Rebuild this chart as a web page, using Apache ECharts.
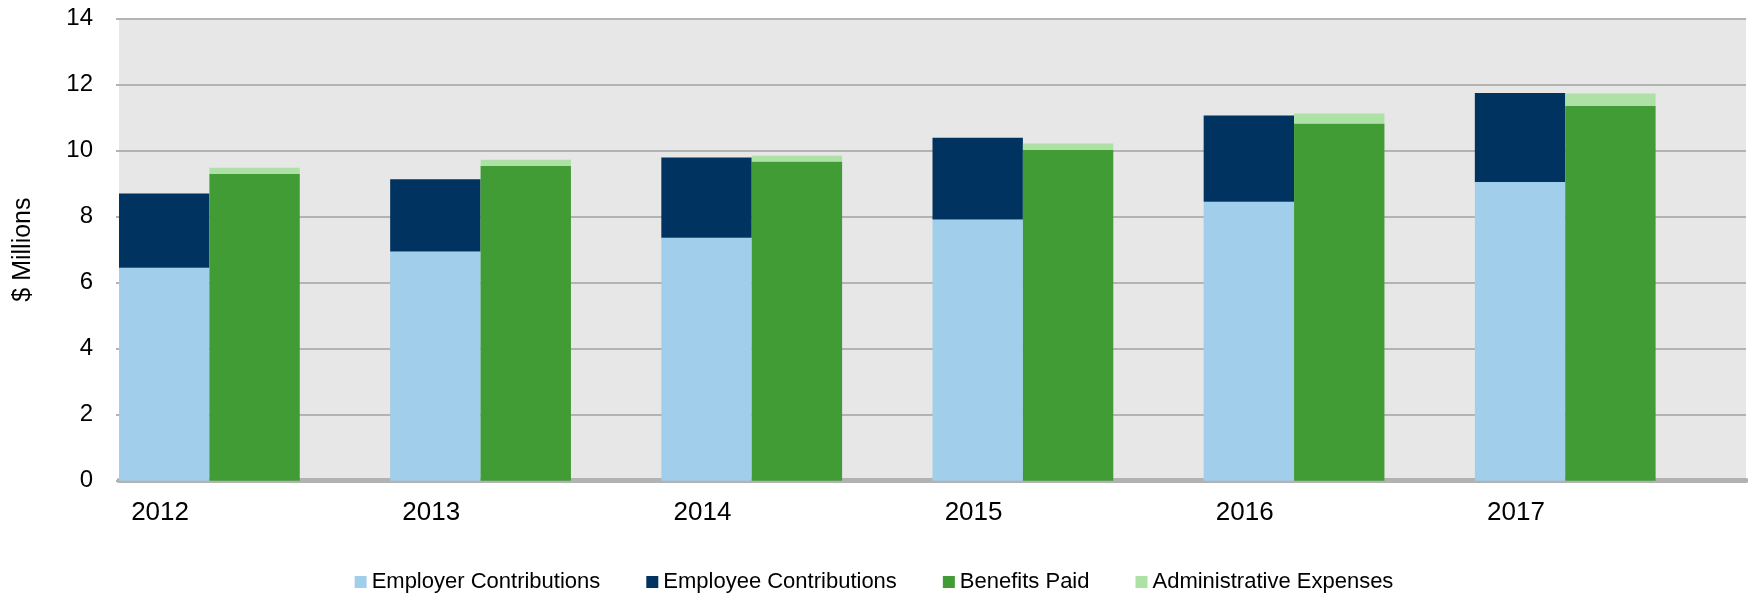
<!DOCTYPE html>
<html>
<head>
<meta charset="utf-8">
<script src="https://cdn.jsdelivr.net/npm/echarts@6/dist/echarts.min.js"></script>
<style>
  html, body { margin: 0; padding: 0; background: #fff; }
  #chart { width: 1748px; height: 594px; }
</style>
</head>
<body>
<div id="chart"></div>
<script>
// values in $ millions
var years = ["2012", "2013", "2014", "2015", "2016", "2017"];
var employer = [6.45, 6.94, 7.36, 7.91, 8.45, 9.05];
var employee = [2.25, 2.19, 2.43, 2.48, 2.61, 2.69];
var benefits = [9.29, 9.54, 9.67, 10.02, 10.82, 11.35];
var admin = [0.19, 0.18, 0.17, 0.19, 0.30, 0.38];
var yTicks = [0, 2, 4, 6, 8, 10, 12, 14];

var font = "'Liberation Sans', Arial, sans-serif";
var chart = echarts.init(document.getElementById("chart"));

var option = {
  animation: false,
  textStyle: { fontFamily: font, color: "#000" },
  grid: {
    left: 119,
    right: 2,
    top: 18.5,
    bottom: 113.3,
    outerBoundsMode: "none",
    containLabel: false,
    show: true,
    backgroundColor: "#e7e7e7",
    borderWidth: 0,
  },
  legend: {
    data: ["Employer Contributions", "Employee Contributions", "Benefits Paid", "Administrative Expenses"],
    left: "center",
    top: 566,
    itemWidth: 12,
    itemHeight: 12,
    itemGap: 46,
    icon: "rect",
    textStyle: { fontFamily: font, fontSize: 22, color: "#000" },
  },
  xAxis: {
    type: "category",
    data: years,
    axisLine: { lineStyle: { color: "#b2b2b2", width: 5 } },
    axisTick: { show: false },
    axisLabel: {
      interval: 0,
      fontSize: 26,
      color: "#000",
      margin: 19,
      padding: [0, 189, 0, 0],
    },
  },
  yAxis: {
    type: "value",
    min: yTicks[0],
    max: yTicks[yTicks.length - 1],
    interval: 2,
    name: "$ Millions",
    nameLocation: "middle",
    nameGap: 83,
    nameMoveOverlap: false,
    nameTextStyle: { fontSize: 25, color: "#000" },
    axisLine: { show: false },
    axisTick: { show: true, length: 3, lineStyle: { color: "#b3b3b3", width: 2 } },
    axisLabel: { fontSize: 24, color: "#000", margin: 26 },
    splitLine: { lineStyle: { color: "#b3b3b3", width: 2 } },
  },
  series: [
    {
      name: "Employer Contributions",
      type: "bar",
      stack: "contrib",
      barGap: "0%",
      barCategoryGap: "0%",
      data: employer,
      itemStyle: { color: "#a0ceeb" },
    },
    {
      name: "Employee Contributions",
      type: "bar",
      stack: "contrib",
      data: employee,
      itemStyle: { color: "#00335f" },
    },
    {
      name: "Benefits Paid",
      type: "bar",
      stack: "paid",
      data: benefits,
      itemStyle: { color: "#429c36" },
    },
    {
      name: "Administrative Expenses",
      type: "bar",
      stack: "paid",
      data: admin,
      itemStyle: { color: "#aee1a6" },
    },
    {
      // empty slot so the pair sits at the left of each year like the original
      name: "spacer",
      type: "bar",
      stack: "spacer",
      silent: true,
      data: years.map(function () { return "-"; }),
    },
  ],
};

chart.setOption(option);
</script>
</body>
</html>
